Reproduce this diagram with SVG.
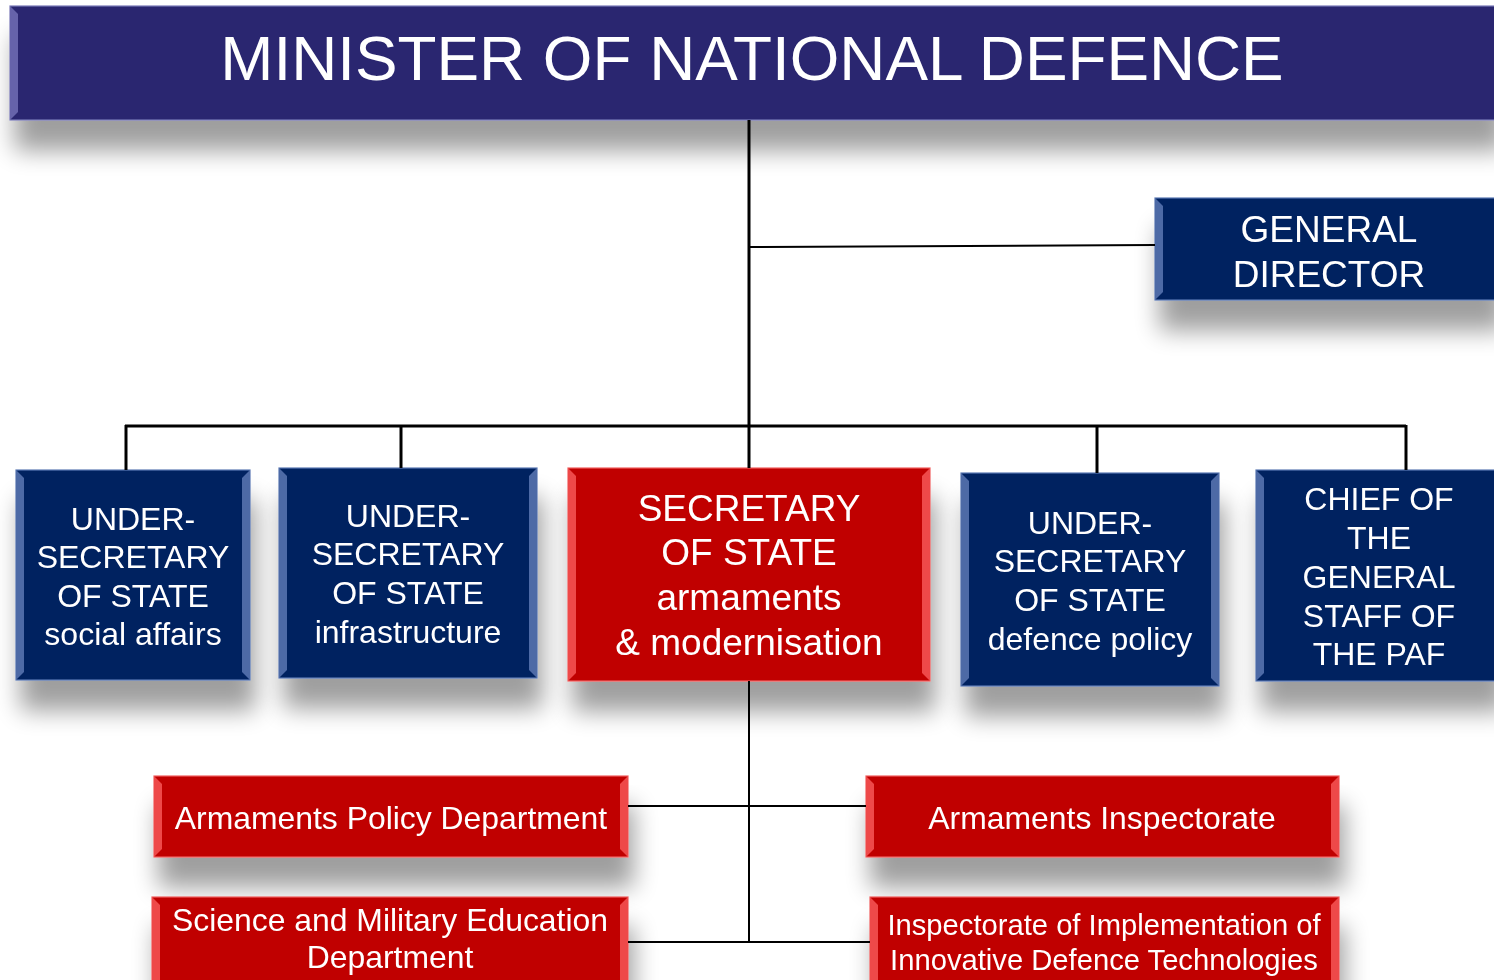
<svg xmlns="http://www.w3.org/2000/svg" width="1494" height="980" viewBox="0 0 1494 980">
<defs>
<style>
.t{font-family:"Liberation Sans",Arial,sans-serif;fill:#fff;text-anchor:middle}
.nav{fill:#002060;stroke:#5a78b4;stroke-width:1.2}
.navb{fill:#4d6aa6}
.top{fill:#29266f;stroke:#7b7ab8;stroke-width:1.2}
.topb{fill:#6664aa}
.red{fill:#c00000;stroke:#f06060;stroke-width:1.2}
.redb{fill:#ee4848}
.ln{stroke:#000;fill:none}
</style>
<filter id="sh" x="-10%" y="-25%" width="125%" height="190%">
<feGaussianBlur in="SourceAlpha" stdDeviation="12"/>
<feOffset dx="5" dy="30"/>
<feComponentTransfer><feFuncA type="linear" slope="0.38"/></feComponentTransfer>
<feMerge><feMergeNode/><feMergeNode in="SourceGraphic"/></feMerge>
</filter>
</defs>
<rect width="1494" height="980" fill="#fff"/>

<g id="minister" filter="url(#sh)">
<rect class="top" x="10" y="6" width="1490" height="114"/>
<polygon class="topb" points="10,6 18,14 18,112 10,120"/>
<text class="t" x="752" y="80" font-size="63.8">MINISTER OF NATIONAL DEFENCE</text>
</g>

<g id="general-director" filter="url(#sh)">
<rect class="nav" x="1155" y="198" width="345" height="102"/>
<polygon class="navb" points="1155,198 1163,206 1163,292 1155,300"/>
<text class="t" font-size="37"><tspan x="1329" y="242">GENERAL</tspan><tspan x="1329" y="287">DIRECTOR</tspan></text>
</g>

<g id="usos-social" filter="url(#sh)">
<rect class="nav" x="16" y="470" width="234" height="210"/>
<polygon class="navb" points="16,470 24,478 24,672 16,680"/>
<polygon class="navb" points="250,470 242,478 242,672 250,680"/>
<text class="t" font-size="32"><tspan x="133" y="530">UNDER-</tspan><tspan x="133" y="568">SECRETARY</tspan><tspan x="133" y="607">OF STATE</tspan><tspan x="133" y="645">social affairs</tspan></text>
</g>

<g id="usos-infrastructure" filter="url(#sh)">
<rect class="nav" x="279" y="468" width="258" height="210"/>
<polygon class="navb" points="279,468 287,476 287,670 279,678"/>
<polygon class="navb" points="537,468 529,476 529,670 537,678"/>
<text class="t" font-size="32"><tspan x="408" y="527">UNDER-</tspan><tspan x="408" y="565">SECRETARY</tspan><tspan x="408" y="604">OF STATE</tspan><tspan x="408" y="643">infrastructure</tspan></text>
</g>

<g id="sos-armaments" filter="url(#sh)">
<rect class="red" x="568" y="468" width="362" height="213"/>
<polygon class="redb" points="568,468 576,476 576,673 568,681"/>
<polygon class="redb" points="930,468 922,476 922,673 930,681"/>
<text class="t" font-size="37"><tspan x="749" y="521">SECRETARY</tspan><tspan x="749" y="565">OF STATE</tspan><tspan x="749" y="610">armaments</tspan><tspan x="749" y="655">&amp; modernisation</tspan></text>
</g>

<g id="usos-defence-policy" filter="url(#sh)">
<rect class="nav" x="961" y="473" width="258" height="213"/>
<polygon class="navb" points="961,473 969,481 969,678 961,686"/>
<polygon class="navb" points="1219,473 1211,481 1211,678 1219,686"/>
<text class="t" font-size="32"><tspan x="1090" y="534">UNDER-</tspan><tspan x="1090" y="572">SECRETARY</tspan><tspan x="1090" y="611">OF STATE</tspan><tspan x="1090" y="650">defence policy</tspan></text>
</g>

<g id="chief-general-staff" filter="url(#sh)">
<rect class="nav" x="1256" y="470" width="245" height="211"/>
<polygon class="navb" points="1256,470 1264,478 1264,673 1256,681"/>
<text class="t" font-size="32"><tspan x="1379" y="510">CHIEF OF</tspan><tspan x="1379" y="549">THE</tspan><tspan x="1379" y="588">GENERAL</tspan><tspan x="1379" y="627">STAFF OF</tspan><tspan x="1379" y="665">THE PAF</tspan></text>
</g>

<g id="armaments-policy" filter="url(#sh)">
<rect class="red" x="154" y="776" width="474" height="81"/>
<polygon class="redb" points="154,776 162,784 162,849 154,857"/>
<polygon class="redb" points="628,776 620,784 620,849 628,857"/>
<text class="t" x="391" y="829" font-size="31.9">Armaments Policy Department</text>
</g>

<g id="armaments-inspectorate" filter="url(#sh)">
<rect class="red" x="866" y="776" width="473" height="81"/>
<polygon class="redb" points="866,776 874,784 874,849 866,857"/>
<polygon class="redb" points="1339,776 1331,784 1331,849 1339,857"/>
<text class="t" x="1102" y="829" font-size="31.9">Armaments Inspectorate</text>
</g>

<g id="science-education" filter="url(#sh)">
<rect class="red" x="152" y="897" width="476" height="95"/>
<polygon class="redb" points="152,897 160,905 160,992 152,992"/>
<polygon class="redb" points="628,897 620,905 620,992 628,992"/>
<text class="t" font-size="31.9"><tspan x="390" y="931">Science and Military Education</tspan><tspan x="390" y="968">Department</tspan></text>
</g>

<g id="innovative-tech" filter="url(#sh)">
<rect class="red" x="870" y="897" width="469" height="95"/>
<polygon class="redb" points="870,897 878,905 878,992 870,992"/>
<polygon class="redb" points="1339,897 1331,905 1331,992 1339,992"/>
<text class="t" font-size="29.2"><tspan x="1104" y="935">Inspectorate of Implementation of</tspan><tspan x="1104" y="970">Innovative Defence Technologies</tspan></text>
</g>

<g id="connectors">
<line class="ln" x1="749" y1="120" x2="749" y2="468" stroke-width="3"/>
<line class="ln" x1="749" y1="247" x2="1155" y2="245" stroke-width="2"/>
<line class="ln" x1="125" y1="426" x2="1406" y2="426" stroke-width="3"/>
<line class="ln" x1="126" y1="425" x2="126" y2="470" stroke-width="3"/>
<line class="ln" x1="401" y1="425" x2="401" y2="468" stroke-width="3"/>
<line class="ln" x1="1097" y1="425" x2="1097" y2="473" stroke-width="3"/>
<line class="ln" x1="1406" y1="425" x2="1406" y2="470" stroke-width="3"/>
<line class="ln" x1="749" y1="681" x2="749" y2="943" stroke-width="2"/>
<line class="ln" x1="628" y1="806" x2="866" y2="806" stroke-width="2"/>
<line class="ln" x1="628" y1="942" x2="870" y2="942" stroke-width="2"/>
</g>
</svg>
